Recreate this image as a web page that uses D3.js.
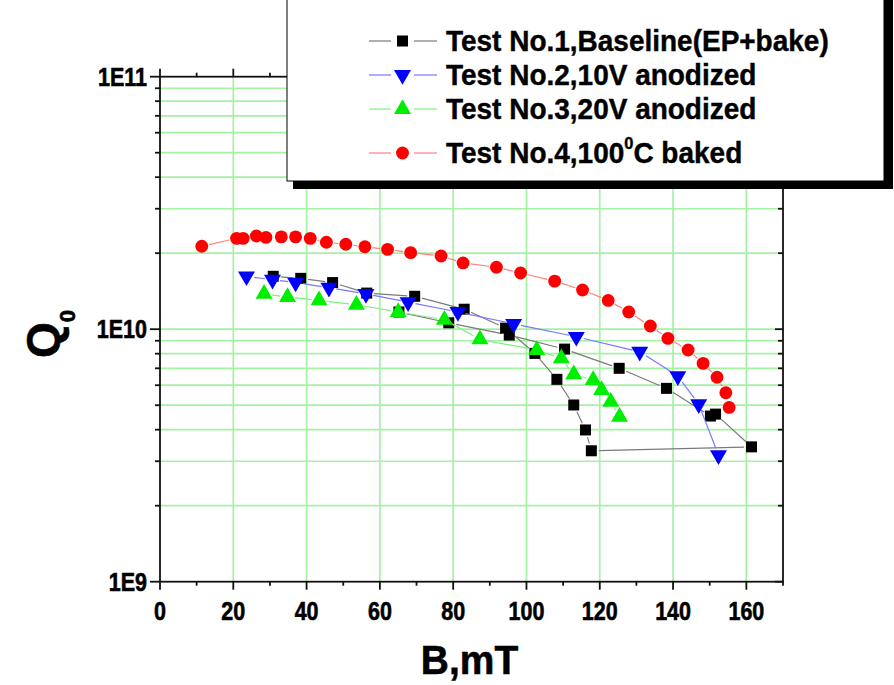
<!DOCTYPE html>
<html><head><meta charset="utf-8">
<script src="https://cdn.jsdelivr.net/npm/d3@7"></script>
<style>body{margin:0;background:#fff}svg{display:block}</style>
</head><body>
<svg id="c" width="894" height="685"></svg>
<script>
// ---- data ----
const xTicks = [0, 20, 40, 60, 80, 100, 120, 140, 160];
const yMajor = [1e9, 1e10, 1e11];
const yTickLabels = ["1E9", "1E10", "1E11"];
const seriesNames = ["Test No.1,Baseline(EP+bake)", "Test No.2,10V anodized", "Test No.3,20V anodized", "Test No.4,100"];

const t1B = [30.9, 38.4, 47.1, 56.4, 69.5, 83.0, 94.3, 102.3, 108.3, 112.9, 116.1, 117.7, 161.4, 151.6, 150.2, 138.2, 125.3, 110.4, 95.3, 78.8, 65.2];
const t1Q = [1.62e10, 1.59e10, 1.53e10, 1.39e10, 1.35e10, 1.20e10, 1.01e10, 8.02e9, 6.33e9, 5.01e9, 3.99e9, 3.30e9, 3.42e9, 4.61e9, 4.53e9, 5.83e9, 7.00e9, 8.34e9, 9.48e9, 1.06e10, 1.17e10];

const t2B = [23.6, 30.7, 37.0, 46.1, 56.2, 67.7, 81.3, 96.5, 113.6, 130.9, 141.3, 147.0, 152.4];
const t2Q = [1.62e10, 1.57e10, 1.53e10, 1.46e10, 1.38e10, 1.28e10, 1.17e10, 1.05e10, 9.33e9, 8.14e9, 6.52e9, 5.05e9, 3.17e9];

const t3B = [28.4, 34.8, 43.4, 53.6, 65.0, 77.6, 87.3, 102.8, 109.5, 112.9, 118.2, 120.5, 123.0, 125.4];
const t3Q = [1.38e10, 1.34e10, 1.30e10, 1.25e10, 1.17e10, 1.09e10, 9.11e9, 8.27e9, 7.66e9, 6.62e9, 6.29e9, 5.74e9, 5.16e9, 4.50e9];

const t4B = [11.4, 20.9, 22.7, 26.3, 28.9, 33.1, 37.0, 41.0, 45.4, 50.7, 55.9, 62.1, 68.4, 76.7, 82.7, 91.8, 98.4, 107.7, 115.3, 122.3, 127.9, 133.8, 138.6, 144.1, 148.2, 152.0, 154.4, 155.3];
const t4Q = [2.13e10, 2.29e10, 2.29e10, 2.34e10, 2.31e10, 2.32e10, 2.32e10, 2.29e10, 2.21e10, 2.17e10, 2.12e10, 2.07e10, 2.01e10, 1.95e10, 1.83e10, 1.76e10, 1.67e10, 1.55e10, 1.43e10, 1.30e10, 1.17e10, 1.03e10, 9.2e9, 8.27e9, 7.32e9, 6.45e9, 5.60e9, 4.90e9];

// ---- chart ----
const FONT = "'Liberation Sans', Arial, sans-serif";
const svg = d3.select("#c");
const x = d3.scaleLinear().domain([0, 170]).range([160, 783]);
const y = d3.scaleLog().domain([1e9, 1e11]).range([581.7, 76.7]);
const [x0, x1] = x.range();
const [yb, yt] = y.range();

// grid
const gridColor = "#a3f3a3";
const minorY = [];
[1e9, 1e10].forEach(d => { for (let k = 2; k <= 10; k++) minorY.push(d * k); });
const gridY = minorY.filter(v => v < 1e11);
svg.append("g").selectAll("line").data(gridY).join("line")
  .attr("x1", x0).attr("x2", x1).attr("y1", d => y(d)).attr("y2", d => y(d))
  .attr("stroke", gridColor).attr("stroke-width", 1.7);
svg.append("g").selectAll("line").data(xTicks.filter(d => d > 0)).join("line")
  .attr("x1", d => x(d)).attr("x2", d => x(d)).attr("y1", yt).attr("y2", yb)
  .attr("stroke", gridColor).attr("stroke-width", 1.7);

// axes
const minorX = d3.range(10, 171, 20);
const axisG = svg.append("g").attr("stroke", "#111").attr("stroke-width", 1.8);
axisG.append("rect").attr("x", x0).attr("y", yt).attr("width", x1 - x0).attr("height", yb - yt).attr("fill", "none");
xTicks.forEach(d => {
  axisG.append("line").attr("x1", x(d)).attr("x2", x(d)).attr("y1", yb).attr("y2", yb + 8);
  axisG.append("line").attr("x1", x(d)).attr("x2", x(d)).attr("y1", yt).attr("y2", yt - 8);
});
minorX.forEach(d => {
  axisG.append("line").attr("x1", x(d)).attr("x2", x(d)).attr("y1", yb).attr("y2", yb + 4);
  axisG.append("line").attr("x1", x(d)).attr("x2", x(d)).attr("y1", yt).attr("y2", yt - 4);
});
yMajor.forEach(d => {
  axisG.append("line").attr("x1", x0 - 10).attr("x2", x0).attr("y1", y(d)).attr("y2", y(d));
  axisG.append("line").attr("x1", x1 - 8).attr("x2", x1).attr("y1", y(d)).attr("y2", y(d));
});
gridY.filter(v => v !== 1e10).forEach(d => {
  axisG.append("line").attr("x1", x0 - 5).attr("x2", x0).attr("y1", y(d)).attr("y2", y(d));
  axisG.append("line").attr("x1", x1 - 5).attr("x2", x1).attr("y1", y(d)).attr("y2", y(d));
});

// tick labels (slightly condensed, heavy bold)
svg.append("g").selectAll("text").data(xTicks).join("text")
  .attr("transform", d => `translate(${x(d)},${yb + 38}) scale(0.86,1)`)
  .attr("text-anchor", "middle").attr("font-family", FONT).attr("font-weight", "bold").attr("font-size", 25)
  .attr("stroke", "#000").attr("stroke-width", 0.6)
  .text(d => d);
svg.append("g").selectAll("text").data(yMajor).join("text")
  .attr("transform", d => `translate(${x0 - 13},${y(d) + 9}) scale(0.86,1)`)
  .attr("text-anchor", "end").attr("font-family", FONT).attr("font-weight", "bold").attr("font-size", 25)
  .attr("stroke", "#000").attr("stroke-width", 0.6)
  .text((d, i) => yTickLabels[i]);

// axis titles
svg.append("text").attr("transform", `translate(${(x0 + x1) / 2 - 2},674) scale(0.95,1)`)
  .attr("text-anchor", "middle").attr("font-family", FONT).attr("font-weight", "bold").attr("font-size", 41)
  .attr("stroke", "#000").attr("stroke-width", 0.6)
  .text("B,mT");
const qt = svg.append("text").attr("transform", "translate(59,334) rotate(-90)")
  .attr("text-anchor", "middle").attr("font-family", FONT).attr("font-weight", "bold").attr("font-size", 46)
  .attr("stroke", "#000").attr("stroke-width", 0.6);
qt.append("tspan").text("Q");
qt.append("tspan").attr("font-size", 22).attr("dy", 16).text("0");

// series
const series = [
  { B: t1B, Q: t1Q, color: "#000000", line: "#7a7a7a", shape: "square" },
  { B: t2B, Q: t2Q, color: "#0000ff", line: "#7878ff", shape: "down" },
  { B: t3B, Q: t3Q, color: "#00ee00", line: "#7ef07e", shape: "up" },
  { B: t4B, Q: t4Q, color: "#ff0000", line: "#ff8080", shape: "circle" }
];
const sym = {
  square: d3.symbol().type(d3.symbolSquare).size(121),
  down: d3.symbol().type(d3.symbolTriangle).size(125),
  up: d3.symbol().type(d3.symbolTriangle).size(125),
  circle: d3.symbol().type(d3.symbolCircle).size(130)
};
function drawMarker(g, shape, px, py, color) {
  g.append("path").attr("d", sym[shape]())
    .attr("transform", `translate(${px},${py})` + (shape === "down" ? " rotate(180)" : ""))
    .attr("fill", color);
}
function segs(pts, gap) {
  const out = [];
  for (let i = 0; i < pts.length - 1; i++) {
    const [ax, ay] = pts[i], [bx, by] = pts[i + 1];
    const dx = bx - ax, dy = by - ay, L = Math.hypot(dx, dy);
    if (L <= 2 * gap) continue;
    const ux = dx / L, uy = dy / L;
    out.push([ax + ux * gap, ay + uy * gap, bx - ux * gap, by - uy * gap]);
  }
  return out;
}
series.forEach(s => {
  const g = svg.append("g");
  const pts = s.B.map((b, i) => [x(b), y(s.Q[i])]);
  g.selectAll("line").data(segs(pts, 7.5)).join("line")
    .attr("x1", d => d[0]).attr("y1", d => d[1]).attr("x2", d => d[2]).attr("y2", d => d[3])
    .attr("stroke", s.line).attr("stroke-width", 1.2);
  pts.forEach(p => drawMarker(g, s.shape, p[0], p[1], s.color));
});

// legend
const lg = svg.append("g");
lg.append("rect").attr("x", 293).attr("y", -2).attr("width", 600).attr("height", 191).attr("fill", "#000");
lg.append("rect").attr("x", 287).attr("y", -8).attr("width", 597).attr("height", 189)
  .attr("fill", "#fff").attr("stroke", "#000").attr("stroke-width", 1);
const rowY = [41, 75, 109, 153];
series.forEach((s, i) => {
  const cy = rowY[i];
  lg.append("line").attr("x1", 369).attr("x2", 391).attr("y1", cy).attr("y2", cy).attr("stroke", s.line).attr("stroke-width", 1.2);
  lg.append("line").attr("x1", 414).attr("x2", 437).attr("y1", cy).attr("y2", cy).attr("stroke", s.line).attr("stroke-width", 1.2);
  drawMarker(lg, s.shape, 402.5, cy, s.color);
  const t = lg.append("text").attr("transform", `translate(446,${cy + 10}) scale(0.965,1)`)
    .attr("font-family", FONT).attr("font-weight", "bold").attr("font-size", 29)
    .attr("stroke", "#000").attr("stroke-width", 0.4);
  t.append("tspan").text(seriesNames[i]);
  if (i === 3) {
    t.append("tspan").attr("font-size", 17).attr("dy", -14).text("0");
    t.append("tspan").attr("dy", 14).text("C baked");
  }
});
</script>
</body></html>
